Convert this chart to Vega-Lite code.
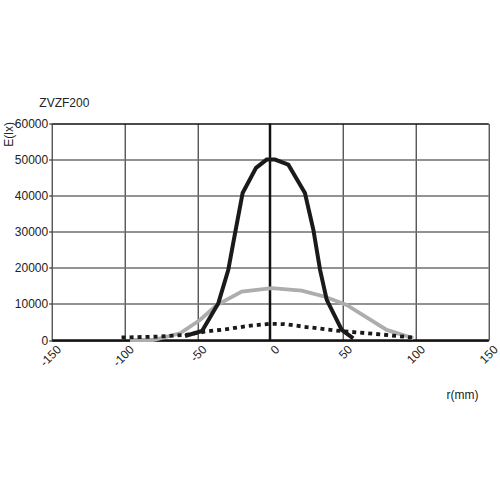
{
  "$schema": "https://vega.github.io/schema/vega-lite/v6.json",
  "width": 436.6,
  "height": 216.5,
  "autosize": {"type": "none"},
  "padding": {"left": 51.7, "top": 123.5, "right": 11.7, "bottom": 160},
  "background": "white",
  "config": {"view": {"stroke": null}, "font": "Liberation Sans"},
  "title": {"text": "ZVZF200", "anchor": "start", "frame": "group", "dx": -12.4, "offset": -1, "baseline": "alphabetic", "fontSize": 12, "fontWeight": "normal", "color": "#222", "font": "Liberation Sans"},
  "data": {"values": [
    {"s": "axis0", "r": 0, "E": 0}, {"s": "axis0", "r": 0, "E": 60000},
    {"s": "gray", "r": -96.2, "E": 0}, {"s": "gray", "r": -80.2, "E": 0}, {"s": "gray", "r": -61.8, "E": 1860}, {"s": "gray", "r": -48.1, "E": 5550}, {"s": "gray", "r": -36.6, "E": 9700}, {"s": "gray", "r": -19.4, "E": 13400}, {"s": "gray", "r": 1.2, "E": 14350}, {"s": "gray", "r": 21.8, "E": 13700}, {"s": "gray", "r": 37.8, "E": 12000}, {"s": "gray", "r": 52.7, "E": 9700}, {"s": "gray", "r": 80.2, "E": 2800}, {"s": "gray", "r": 98.5, "E": 470},
    {"s": "dot", "r": -102, "E": 700}, {"s": "dot", "r": -80, "E": 900}, {"s": "dot", "r": -58, "E": 1400}, {"s": "dot", "r": -45, "E": 2300}, {"s": "dot", "r": -30, "E": 3000}, {"s": "dot", "r": -15, "E": 3900}, {"s": "dot", "r": 0, "E": 4500}, {"s": "dot", "r": 10, "E": 4400}, {"s": "dot", "r": 25, "E": 3600}, {"s": "dot", "r": 48, "E": 2500}, {"s": "dot", "r": 72, "E": 1700}, {"s": "dot", "r": 98, "E": 700},
    {"s": "black", "r": -58.4, "E": 1100}, {"s": "black", "r": -46.7, "E": 2500}, {"s": "black", "r": -35.5, "E": 10200}, {"s": "black", "r": -28.7, "E": 19400}, {"s": "black", "r": -24.0, "E": 29600}, {"s": "black", "r": -18.8, "E": 40750}, {"s": "black", "r": -9.6, "E": 47700}, {"s": "black", "r": -2.3, "E": 50000}, {"s": "black", "r": 3.4, "E": 50000}, {"s": "black", "r": 12.6, "E": 48600}, {"s": "black", "r": 24.0, "E": 40750}, {"s": "black", "r": 29.8, "E": 30550}, {"s": "black", "r": 34.4, "E": 19450}, {"s": "black", "r": 39.0, "E": 11100}, {"s": "black", "r": 49.3, "E": 2800}, {"s": "black", "r": 57.2, "E": 470}
  ]},
  "encoding": {
    "x": {
      "field": "r", "type": "quantitative",
      "scale": {"domain": [-150, 150], "nice": false, "zero": false},
      "axis": {
        "title": "r(mm)", "values": [-150, -100, -50, 0, 50, 100, 150],
        "labelExpr": "datum.value + ''",
        "grid": true, "gridColor": "#111", "gridWidth": 1,
        "domainColor": "#111", "domainWidth": 2.5,
        "ticks": false,
        "labelAngle": -45, "labelAlign": "right", "labelBaseline": "middle", "labelOffset": 7, "labelPadding": 7,
        "labelFontSize": 12, "labelColor": "#222", "labelFlush": false, "labelOverlap": false,
        "titleFontSize": 12, "titleFontWeight": "normal", "titleColor": "#222",
        "titleX": 426.3, "titleY": 58, "titleAlign": "right", "titleBaseline": "alphabetic", "titleAnchor": null
      }
    },
    "y": {
      "field": "E", "type": "quantitative",
      "scale": {"domain": [0, 60000], "nice": false},
      "axis": {
        "title": "E(lx)", "values": [0, 10000, 20000, 30000, 40000, 50000, 60000],
        "format": "d",
        "grid": true,
        "gridColor": {"condition": {"test": "datum.value === 60000", "value": "#111"}, "value": "#6f6f6f"},
        "gridWidth": 1.4,
        "domain": false, "tickSize": 3, "tickColor": "#111",
        "labelPadding": 1, "labelFontSize": 12, "labelColor": "#222",
        "titleAngle": -90, "titleAlign": "right", "titleBaseline": "alphabetic", "titleX": -39.7, "titleY": -2,
        "titleFontSize": 12, "titleFontWeight": "normal", "titleColor": "#222"
      }
    }
  },
  "layer": [
    {"transform": [{"filter": "datum.s === 'axis0'"}], "mark": {"type": "line", "color": "#111", "strokeWidth": 2.5}},
    {"transform": [{"filter": "datum.s === 'gray'"}], "mark": {"type": "line", "color": "#adadad", "strokeWidth": 3.8}},
    {"transform": [{"filter": "datum.s === 'dot'"}], "mark": {"type": "line", "color": "#1a1a1a", "strokeWidth": 3.8, "strokeDash": [4, 4]}},
    {"transform": [{"filter": "datum.s === 'black'"}], "mark": {"type": "line", "color": "#1a1a1a", "strokeWidth": 4}}
  ]
}
